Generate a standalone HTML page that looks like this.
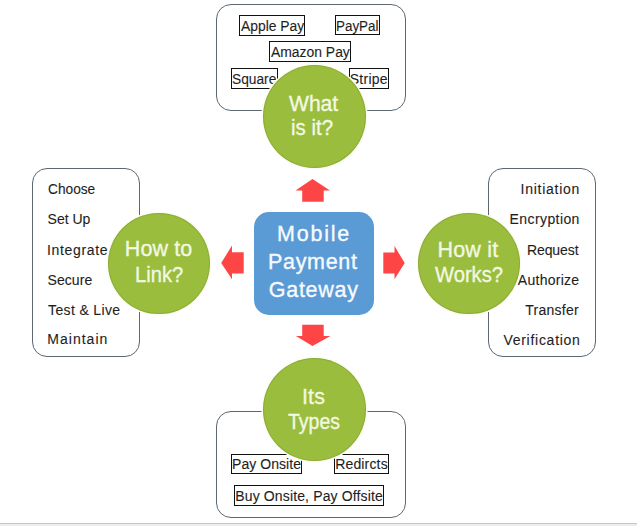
<!DOCTYPE html>
<html><head><meta charset="utf-8"><style>
html,body{margin:0;padding:0;}
body{width:637px;height:526px;position:relative;overflow:hidden;background:#fff;font-family:"Liberation Sans",sans-serif;}
.panel{position:absolute;box-sizing:border-box;border:1.3px solid #5d6770;border-radius:15px;background:#fff;}
.box{position:absolute;box-sizing:border-box;border:1.2px solid #111;}
.circle{position:absolute;border-radius:50%;background:#9abd3e;box-shadow:inset 0 0 0 1px rgba(110,140,30,0.35),0 0 0 1.6px #fbfdf2;}
.blue{position:absolute;border-radius:15px;background:#5b9bd5;}
.t{position:absolute;white-space:pre;line-height:normal;transform-origin:0 0;-webkit-text-stroke:0.1px currentColor;}
.c{-webkit-text-stroke:0.35px currentColor;}
.arr{position:absolute;left:0;top:0;}
.bl1{position:absolute;left:0;top:523px;width:637px;height:1px;background:#c6c6c6;}
.bl2{position:absolute;left:0;top:524px;width:637px;height:2px;background:#ececec;}
</style></head><body>
<div class="panel" style="left:216px;top:4px;width:190px;height:107px"></div>
<div class="panel" style="left:32px;top:168px;width:108px;height:189px"></div>
<div class="panel" style="left:488px;top:168px;width:108px;height:189px"></div>
<div class="panel" style="left:216px;top:411px;width:190px;height:107px"></div>
<div class="box" style="left:239.10px;top:15.10px;width:65.80px;height:20.60px"></div>
<div class="box" style="left:335.20px;top:15.00px;width:44.70px;height:20.40px"></div>
<div class="box" style="left:269.30px;top:40.70px;width:81.90px;height:20.90px"></div>
<div class="box" style="left:231.00px;top:68.00px;width:47.20px;height:20.80px"></div>
<div class="box" style="left:349.00px;top:68.00px;width:40.20px;height:20.80px"></div>
<div class="box" style="left:231.00px;top:454.00px;width:70.80px;height:19.90px"></div>
<div class="box" style="left:334.00px;top:454.00px;width:55.30px;height:20.00px"></div>
<div class="box" style="left:234.00px;top:485.00px;width:150.30px;height:20.70px"></div>
<div class="t" style="left:47.57px;top:181.00px;font-size:14px;color:#1e1e1e;transform:scaleX(0.9787)">Choose</div>
<div class="t" style="left:47.55px;top:211.00px;font-size:14px;color:#1e1e1e;letter-spacing:0.000px">Set Up</div>
<div class="t" style="left:47.05px;top:241.90px;font-size:14px;color:#1e1e1e;letter-spacing:0.662px">Integrate</div>
<div class="t" style="left:47.55px;top:271.60px;font-size:14px;color:#1e1e1e;letter-spacing:0.060px">Secure</div>
<div class="t" style="left:48.05px;top:301.80px;font-size:14px;color:#1e1e1e;letter-spacing:0.360px">Test &amp; Live</div>
<div class="t" style="left:47.30px;top:331.40px;font-size:14px;color:#1e1e1e;letter-spacing:1.014px">Maintain</div>
<div class="t" style="left:520.55px;top:181.00px;font-size:14px;color:#1e1e1e;letter-spacing:0.744px">Initiation</div>
<div class="t" style="left:509.60px;top:210.90px;font-size:14px;color:#1e1e1e;letter-spacing:0.406px">Encryption</div>
<div class="t" style="left:526.90px;top:242.00px;font-size:14px;color:#1e1e1e;letter-spacing:-0.067px">Request</div>
<div class="t" style="left:517.80px;top:272.00px;font-size:14px;color:#1e1e1e;letter-spacing:0.275px">Authorize</div>
<div class="t" style="left:525.25px;top:301.60px;font-size:14px;color:#1e1e1e;letter-spacing:0.250px">Transfer</div>
<div class="t" style="left:503.45px;top:331.70px;font-size:14px;color:#1e1e1e;letter-spacing:0.723px">Verification</div>
<div class="t" style="left:240.70px;top:17.70px;font-size:14px;color:#1e1e1e;transform:scaleX(0.9898)">Apple Pay</div>
<div class="t" style="left:336.04px;top:17.60px;font-size:14px;color:#1e1e1e;transform:scaleX(0.9576)">PayPal</div>
<div class="t" style="left:270.90px;top:43.80px;font-size:14px;color:#1e1e1e;transform:scaleX(0.9931)">Amazon Pay</div>
<div class="t" style="left:232.06px;top:70.60px;font-size:14px;color:#1e1e1e;transform:scaleX(0.9806)">Square</div>
<div class="t" style="left:349.75px;top:70.60px;font-size:14px;color:#1e1e1e;letter-spacing:0.250px">Stripe</div>
<div class="t" style="left:232.00px;top:455.60px;font-size:14px;color:#1e1e1e;letter-spacing:0.050px">Pay Onsite</div>
<div class="t" style="left:335.20px;top:455.60px;font-size:14px;color:#1e1e1e;letter-spacing:0.157px">Redircts</div>
<div class="t" style="left:235.30px;top:487.60px;font-size:14px;color:#1e1e1e;letter-spacing:0.134px">Buy Onsite, Pay Offsite</div>
<svg class="arr" width="637" height="526" viewBox="0 0 637 526">
<g fill="#fe4545">
<polygon points="312.5,179 330,190.4 323.7,190.4 323.7,201.8 302.2,201.8 302.2,190.4 295.5,190.4"/>
<polygon points="302.2,324.7 323.7,324.7 323.7,336.1 330.4,336.1 312.5,346.1 295.9,336.1 302.2,336.1"/>
<polygon points="221.2,262.9 232,245.6 232,252.3 243.7,252.3 243.7,273.4 232,273.4 232,279.3"/>
<polygon points="383.3,252.4 394.5,252.4 394.5,246.1 404.7,262.9 394.5,279.3 394.5,273.6 383.3,273.6"/>
</g></svg>
<div class="blue" style="left:253.8px;top:211.8px;width:120px;height:102.9px"></div>
<div class="circle" style="left:262.55px;top:65.20px;width:103px;height:102.8px"></div>
<div class="circle" style="left:107.60px;top:212.60px;width:102.2px;height:101.5px"></div>
<div class="circle" style="left:417.50px;top:212.55px;width:102.3px;height:101.5px"></div>
<div class="circle" style="left:262.70px;top:358.40px;width:102.9px;height:102.8px"></div>
<div class="t c" style="left:288.80px;top:91.70px;font-size:21.5px;color:#f2f8e2;transform:scaleX(0.9800)">What</div>
<div class="t c" style="left:291.18px;top:116.00px;font-size:21.5px;color:#f2f8e2;transform:scaleX(0.9500)">is it?</div>
<div class="t c" style="left:124.85px;top:237.40px;font-size:21.5px;color:#f2f8e2;letter-spacing:0.090px">How to</div>
<div class="t c" style="left:134.86px;top:262.50px;font-size:21.5px;color:#f2f8e2;transform:scaleX(0.9374)">Link?</div>
<div class="t c" style="left:437.45px;top:238.00px;font-size:21.5px;color:#f2f8e2;letter-spacing:0.210px">How it</div>
<div class="t c" style="left:434.70px;top:262.70px;font-size:21.5px;color:#f2f8e2;transform:scaleX(0.9380)">Works?</div>
<div class="t c" style="left:302.00px;top:384.80px;font-size:21.5px;color:#f2f8e2;letter-spacing:0.100px">Its</div>
<div class="t c" style="left:287.55px;top:409.50px;font-size:21.5px;color:#f2f8e2;transform:scaleX(0.9054)">Types</div>
<div class="t c" style="left:276.95px;top:221.70px;font-size:21.5px;color:#f7fafd;letter-spacing:1.810px">Mobile</div>
<div class="t c" style="left:268.05px;top:250.30px;font-size:21.5px;color:#f7fafd;letter-spacing:0.667px">Payment</div>
<div class="t c" style="left:268.80px;top:278.40px;font-size:21.5px;color:#f7fafd;letter-spacing:0.708px">Gateway</div>
<div class="bl1"></div><div class="bl2"></div>
</body></html>
